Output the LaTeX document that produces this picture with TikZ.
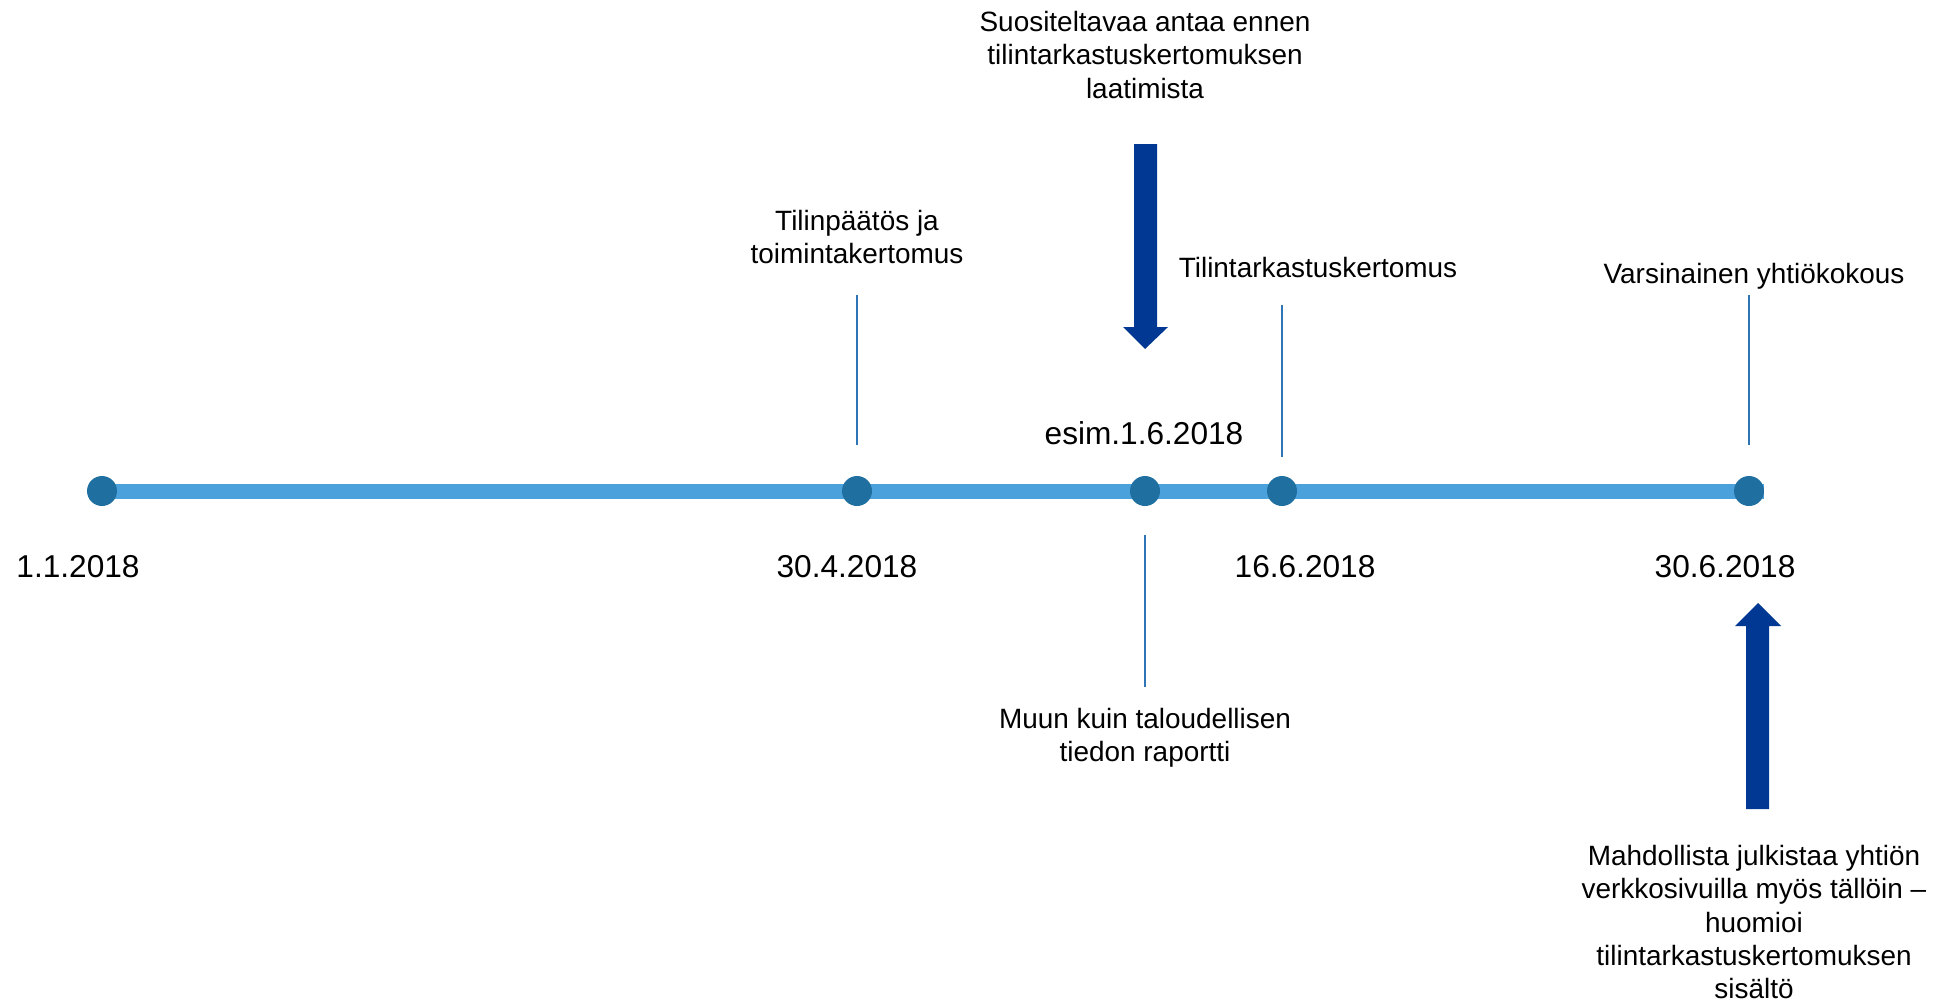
\documentclass[tikz,border=0pt]{standalone}
\usepackage{fontspec}
\setmainfont{Liberation Sans}
\usepackage{tikz}
\usetikzlibrary{positioning, calc}
\usepackage{xcolor}
\definecolor{lineblue}{RGB}{75,161,220}
\definecolor{dotblue}{RGB}{31,111,161}
\definecolor{tickblue}{RGB}{46,117,182}
\definecolor{darkblue}{RGB}{0,56,147}
\tikzset{
  dot/.style={
    circle, fill=dotblue, inner sep=0pt, minimum size=0.6cm
  },
  datelabel/.style={
    font=\fontsize{18}{21}\selectfont, inner sep=0pt
  },
  eventlabel/.style={
    align=center, inner sep=0pt,
    font=\fontsize{15.9}{18.9}\selectfont
  },
  timeline/.style={line width=0.3cm, color=lineblue},
  tick/.style={line width=0.9pt, color=tickblue},
  bigarrow/.style={fill=darkblue},
}

\begin{document}
\begin{tikzpicture}[x=0.02cm, y=-0.02cm]
  \useasboundingbox (0,0) rectangle (1951,1002);

  % Timeline
  \coordinate (linestart) at (102,491);
  \coordinate (lineend) at (1764,491);
  \draw[timeline] (linestart) -- (lineend);
  \node[dot] (d1) at (linestart) {};
  \node[dot] (d2) at (857,491) {};
  \node[dot] (d3) at (1145,491) {};
  \node[dot] (d4) at (1282,491) {};
  \node[dot] (d5) at (1749,491) {};

  % Dates
  \node[datelabel] (t1) at (78,567)   {1.1.2018};
  \node[datelabel] (t2) at (847,567)  {30.4.2018};
  \node[datelabel] (t4) at (1305,567) {16.6.2018};
  \node[datelabel] (t5) at (1725,567) {30.6.2018};
  \node[datelabel] (t3) at (1144,433) {esim.1.6.2018};

  % Events
  \node[eventlabel] (fs)   at (857,237)  {Tilinpäätös ja\\toimintakertomus};
  \node[eventlabel] (ar)   at (1318,268) {Tilintarkastuskertomus};
  \node[eventlabel] (agm)  at (1754,276) {Varsinainen yhtiökokous};
  \node[eventlabel] (rec)  at (1145,55)
        {Suositeltavaa antaa ennen\\tilintarkastuskertomuksen\\laatimista};
  \node[eventlabel] (nfr)  at (1145,738) {Muun kuin taloudellisen\\tiedon raportti};
  \node[eventlabel] (web)  at (1754,922)
        {Mahdollista julkistaa yhtiön\\verkkosivuilla myös tällöin --\\huomioi\\tilintarkastuskertomuksen\\sisältö};

  % Ticks
  \draw[tick] (d2) ++(0,-196) -- ++(0,150);
  \draw[tick] (d4) ++(0,-186) -- ++(0,152);
  \draw[tick] (d5) ++(0,-196) -- ++(0,150);
  \draw[tick] (d3) ++(0,44) -- ++(0,152);

  % Block arrows
  \fill[bigarrow] (1134,144) -- (1157,144) -- (1157,327) -- (1168,327)
        -- (1145,349) -- (1123,327) -- (1134,327) -- cycle;
  \fill[bigarrow] (1746,809) -- (1769,809) -- (1769,626) -- (1781,626)
        -- (1758,603) -- (1735,626) -- (1746,626) -- cycle;

\end{tikzpicture}
\end{document}
